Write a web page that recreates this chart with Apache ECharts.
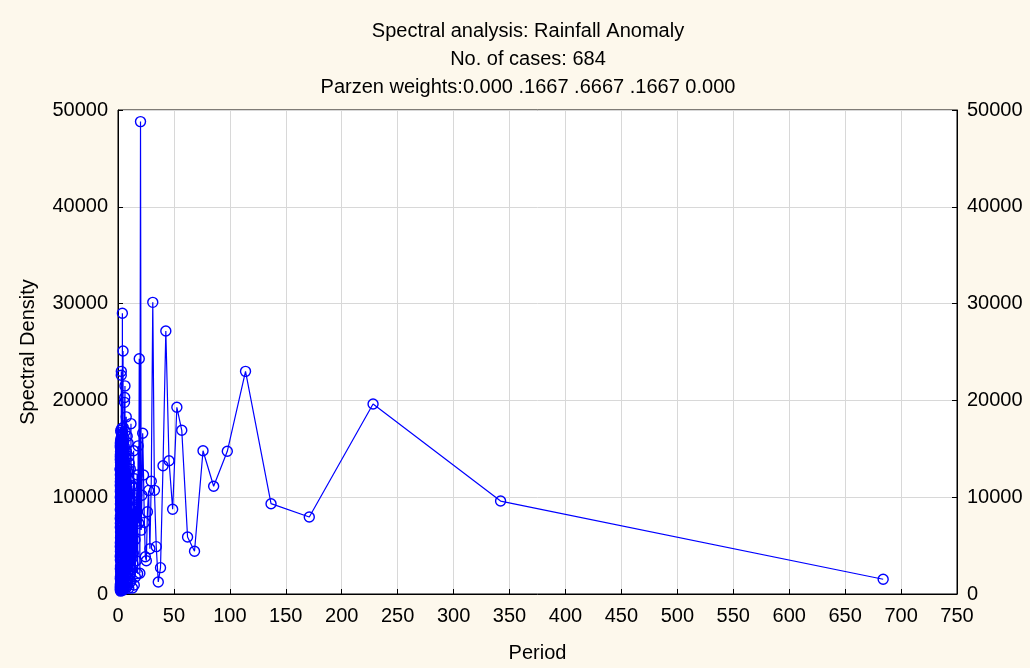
<!DOCTYPE html>
<html>
<head>
<meta charset="utf-8">
<script src="https://cdn.jsdelivr.net/npm/echarts@6/dist/echarts.min.js"></script>
<style>
html,body{margin:0;padding:0;background:#fdf8ec;}
#chart{width:1030px;height:668px;}
</style>
</head>
<body>
<div id="chart"></div>
<script>
const titleLines = [
  'Spectral analysis: Rainfall Anomaly',
  'No. of cases: 684',
  'Parzen weights:0.000 .1667 .6667 .1667 0.000'
];
const xAxisName = 'Period';
const yAxisName = 'Spectral Density';

// Periods (684/k, k = 1..342)
const periods = [
  684, 342, 228, 171, 136.8, 114, 97.71, 85.5, 76, 68.4,
  62.18, 57, 52.62, 48.86, 45.6, 42.75, 40.24, 38, 36, 34.2,
  32.57, 31.09, 29.74, 28.5, 27.36, 26.31, 25.33, 24.43, 23.59, 22.8,
  22.06, 21.38, 20.73, 20.12, 19.54, 19, 18.49, 18, 17.54, 17.1,
  16.68, 16.29, 15.91, 15.55, 15.2, 14.87, 14.55, 14.25, 13.96, 13.68,
  13.41, 13.15, 12.91, 12.67, 12.44, 12.21, 12, 11.79, 11.59, 11.4,
  11.21, 11.03, 10.86, 10.69, 10.52, 10.36, 10.21, 10.06, 9.91, 9.77,
  9.63, 9.5, 9.37, 9.24, 9.12, 9, 8.88, 8.77, 8.66, 8.55,
  8.44, 8.34, 8.24, 8.14, 8.05, 7.95, 7.86, 7.77, 7.69, 7.6,
  7.52, 7.43, 7.35, 7.28, 7.2, 7.13, 7.05, 6.98, 6.91, 6.84,
  6.77, 6.71, 6.64, 6.58, 6.51, 6.45, 6.39, 6.33, 6.28, 6.22,
  6.16, 6.11, 6.05, 6, 5.95, 5.9, 5.85, 5.8, 5.75, 5.7,
  5.65, 5.61, 5.56, 5.52, 5.47, 5.43, 5.39, 5.34, 5.3, 5.26,
  5.22, 5.18, 5.14, 5.1, 5.07, 5.03, 4.99, 4.96, 4.92, 4.89,
  4.85, 4.82, 4.78, 4.75, 4.72, 4.68, 4.65, 4.62, 4.59, 4.56,
  4.53, 4.5, 4.47, 4.44, 4.41, 4.38, 4.36, 4.33, 4.3, 4.28,
  4.25, 4.22, 4.2, 4.17, 4.15, 4.12, 4.1, 4.07, 4.05, 4.02,
  4, 3.98, 3.95, 3.93, 3.91, 3.89, 3.86, 3.84, 3.82, 3.8,
  3.78, 3.76, 3.74, 3.72, 3.7, 3.68, 3.66, 3.64, 3.62, 3.6,
  3.58, 3.56, 3.54, 3.53, 3.51, 3.49, 3.47, 3.45, 3.44, 3.42,
  3.4, 3.39, 3.37, 3.35, 3.34, 3.32, 3.3, 3.29, 3.27, 3.26,
  3.24, 3.23, 3.21, 3.2, 3.18, 3.17, 3.15, 3.14, 3.12, 3.11,
  3.1, 3.08, 3.07, 3.05, 3.04, 3.03, 3.01, 3, 2.99, 2.97,
  2.96, 2.95, 2.94, 2.92, 2.91, 2.9, 2.89, 2.87, 2.86, 2.85,
  2.84, 2.83, 2.81, 2.8, 2.79, 2.78, 2.77, 2.76, 2.75, 2.74,
  2.73, 2.71, 2.7, 2.69, 2.68, 2.67, 2.66, 2.65, 2.64, 2.63,
  2.62, 2.61, 2.6, 2.59, 2.58, 2.57, 2.56, 2.55, 2.54, 2.53,
  2.52, 2.51, 2.51, 2.5, 2.49, 2.48, 2.47, 2.46, 2.45, 2.44,
  2.43, 2.43, 2.42, 2.41, 2.4, 2.39, 2.38, 2.38, 2.37, 2.36,
  2.35, 2.34, 2.33, 2.33, 2.32, 2.31, 2.3, 2.3, 2.29, 2.28,
  2.27, 2.26, 2.26, 2.25, 2.24, 2.24, 2.23, 2.22, 2.21, 2.21,
  2.2, 2.19, 2.19, 2.18, 2.17, 2.16, 2.16, 2.15, 2.14, 2.14,
  2.13, 2.12, 2.12, 2.11, 2.1, 2.1, 2.09, 2.09, 2.08, 2.07,
  2.07, 2.06, 2.05, 2.05, 2.04, 2.04, 2.03, 2.02, 2.02, 2.01,
  2.01, 2
];

// Spectral density at each period (read/estimated from the picture)
const density = [
  1520, 9600, 19630, 7950, 9330, 23000, 14740, 11130, 14800, 4410,
  5890, 16910, 19290, 8750, 13770, 27170, 13250, 2720, 1240, 4890,
  10710, 30130, 11640, 4680, 10700, 8500, 3440, 3850, 7400, 12300,
  16600, 10200, 6600, 48800, 2140, 24300, 7300, 15300, 2100, 12300,
  10200, 3440, 9100, 1750, 5600, 11900, 930, 7700, 14800, 4200,
  3100, 8800, 620, 6400, 11200, 2500, 9700, 4600, 17600, 1300,
  7200, 12900, 3800, 10400, 1900, 8300, 5500, 13500, 2800, 9600,
  600, 14200, 6800, 11800, 3300, 15600, 900, 10300, 4900, 12700,
  2200, 8100, 16300, 1400, 9400, 5800, 13100, 700, 11500, 3900,
  14700, 7600, 18300, 2600, 10900, 4400, 12200, 1100, 8900, 6300,
  3500, 14100, 800, 9900, 12600, 5200, 16800, 2300, 11000, 21500,
  4700, 13600, 1600, 20300, 7900, 10800, 3000, 19800, 900, 15200,
  6100, 12400, 2700, 9300, 14900, 500, 11700, 5600, 16100, 1800,
  8600, 13000, 4100, 10100, 15700, 700, 12800, 6700, 9000, 3600,
  14400, 1200, 11300, 7100, 17200, 2900, 10500, 5100, 13800, 800,
  9600, 25100, 2100, 12100, 6000, 15400, 400, 10700, 4500, 13300,
  8200, 1500, 14600, 7400, 11600, 3200, 16600, 600, 9800, 12900,
  5300, 15000, 2400, 11100, 29000, 1000, 13700, 6900, 10200, 3700,
  15800, 800, 12300, 5900, 9200, 14000, 2000, 11900, 7200, 16400,
  500, 10600, 4300, 13400, 8700, 1700, 15300, 6500, 12000, 3100,
  14300, 900, 11400, 7700, 17100, 2600, 10000, 5400, 13900, 600,
  12500, 8400, 15900, 1900, 9500, 6200, 14800, 400, 11800, 4800,
  16200, 3000, 10900, 7000, 13200, 1300, 15500, 5700, 12200, 23000,
  800, 9100, 14500, 22600, 2200, 11100, 6600, 13600, 500, 15100,
  8000, 10400, 3400, 14000, 1000, 12700, 6300, 16700, 2500, 9700,
  13100, 700, 11500, 5000, 15700, 3300, 10300, 8500, 14200, 1200,
  12600, 6800, 16000, 400, 9900, 4100, 13500, 2000, 11300, 7500,
  15200, 900, 10700, 5500, 14600, 2700, 12100, 600, 9400, 16900,
  3800, 11700, 7900, 13800, 1500, 10100, 5200, 15400, 300, 12900,
  6000, 14100, 2300, 11000, 8800, 13300, 1100, 9600, 4600, 15800,
  700, 12400, 6400, 14700, 2900, 10800, 5800, 13600, 500, 11900,
  8100, 15100, 1800, 9300, 4400, 14400, 1000, 12300, 7300, 13000,
  3500, 10600, 600, 15600, 5300, 11600, 2600, 14200, 8700, 400,
  12800, 6900, 13900, 1600, 10000, 4900, 15300, 800, 11200, 7800,
  12900, 3900
];

const xTicks = {min: 0, max: 750, interval: 50};
const yTicks = {min: 0, max: 50000, interval: 10000};

const n = Math.min(periods.length, density.length);
const points = [];
for (let i = 0; i < n; i++) points.push([periods[i], density[i]]);

const FONT = 'Liberation Sans, Arial, sans-serif';
const FS = 20;
const chart = echarts.init(document.getElementById('chart'), null, {renderer: 'canvas'});

const plainNum = v => String(v);

const yAxisCommon = {
  type: 'value',
  min: yTicks.min, max: yTicks.max, interval: yTicks.interval,
  axisLine: {show: true, lineStyle: {color: '#000', width: 1}},
  axisTick: {show: true, inside: true, length: 5, lineStyle: {color: '#000'}},
  axisLabel: {color: '#000', fontSize: FS, fontFamily: FONT, margin: 10, formatter: plainNum}
};

chart.setOption({
  animation: false,
  backgroundColor: '#fdf8ec',
  title: {
    text: titleLines.join('\n'),
    left: 523,
    top: 12,
    textAlign: 'center',
    textStyle: {fontSize: FS, fontWeight: 'normal', color: '#000', fontFamily: FONT, lineHeight: 28}
  },
  grid: {
    left: 118, right: 73, top: 110, bottom: 74,
    show: true, backgroundColor: '#ffffff', borderColor: '#000', borderWidth: 1
  },
  xAxis: {
    type: 'value',
    min: xTicks.min, max: xTicks.max, interval: xTicks.interval,
    name: xAxisName,
    nameLocation: 'middle',
    nameGap: 49,
    nameTextStyle: {fontSize: FS, color: '#000', fontFamily: FONT},
    axisLine: {show: true, onZero: false, lineStyle: {color: '#000', width: 1}},
    axisTick: {show: true, inside: true, length: 5, lineStyle: {color: '#000'}},
    axisLabel: {color: '#000', fontSize: FS, fontFamily: FONT, margin: 12, formatter: plainNum},
    splitLine: {show: true, lineStyle: {color: '#d8d8d8', width: 1}}
  },
  yAxis: [
    Object.assign({}, yAxisCommon, {
      position: 'left',
      name: yAxisName,
      nameLocation: 'middle',
      nameRotate: 90,
      nameGap: 80,
      nameTextStyle: {fontSize: FS, color: '#000', fontFamily: FONT},
      splitLine: {show: true, lineStyle: {color: '#d8d8d8', width: 1}}
    }),
    Object.assign({}, yAxisCommon, {
      position: 'right',
      splitLine: {show: false}
    })
  ],
  series: [{
    type: 'line',
    data: points,
    yAxisIndex: 0,
    symbol: 'circle',
    symbolSize: 10,
    showAllSymbol: true,
    sampling: null,
    color: '#0000ff',
    lineStyle: {color: '#0000ff', width: 1.2},
    itemStyle: {color: 'rgba(255,255,255,0)', borderColor: '#0000ff', borderWidth: 1.4},
    emphasis: {disabled: true},
    z: 3
  }]
});
</script>
</body>
</html>
